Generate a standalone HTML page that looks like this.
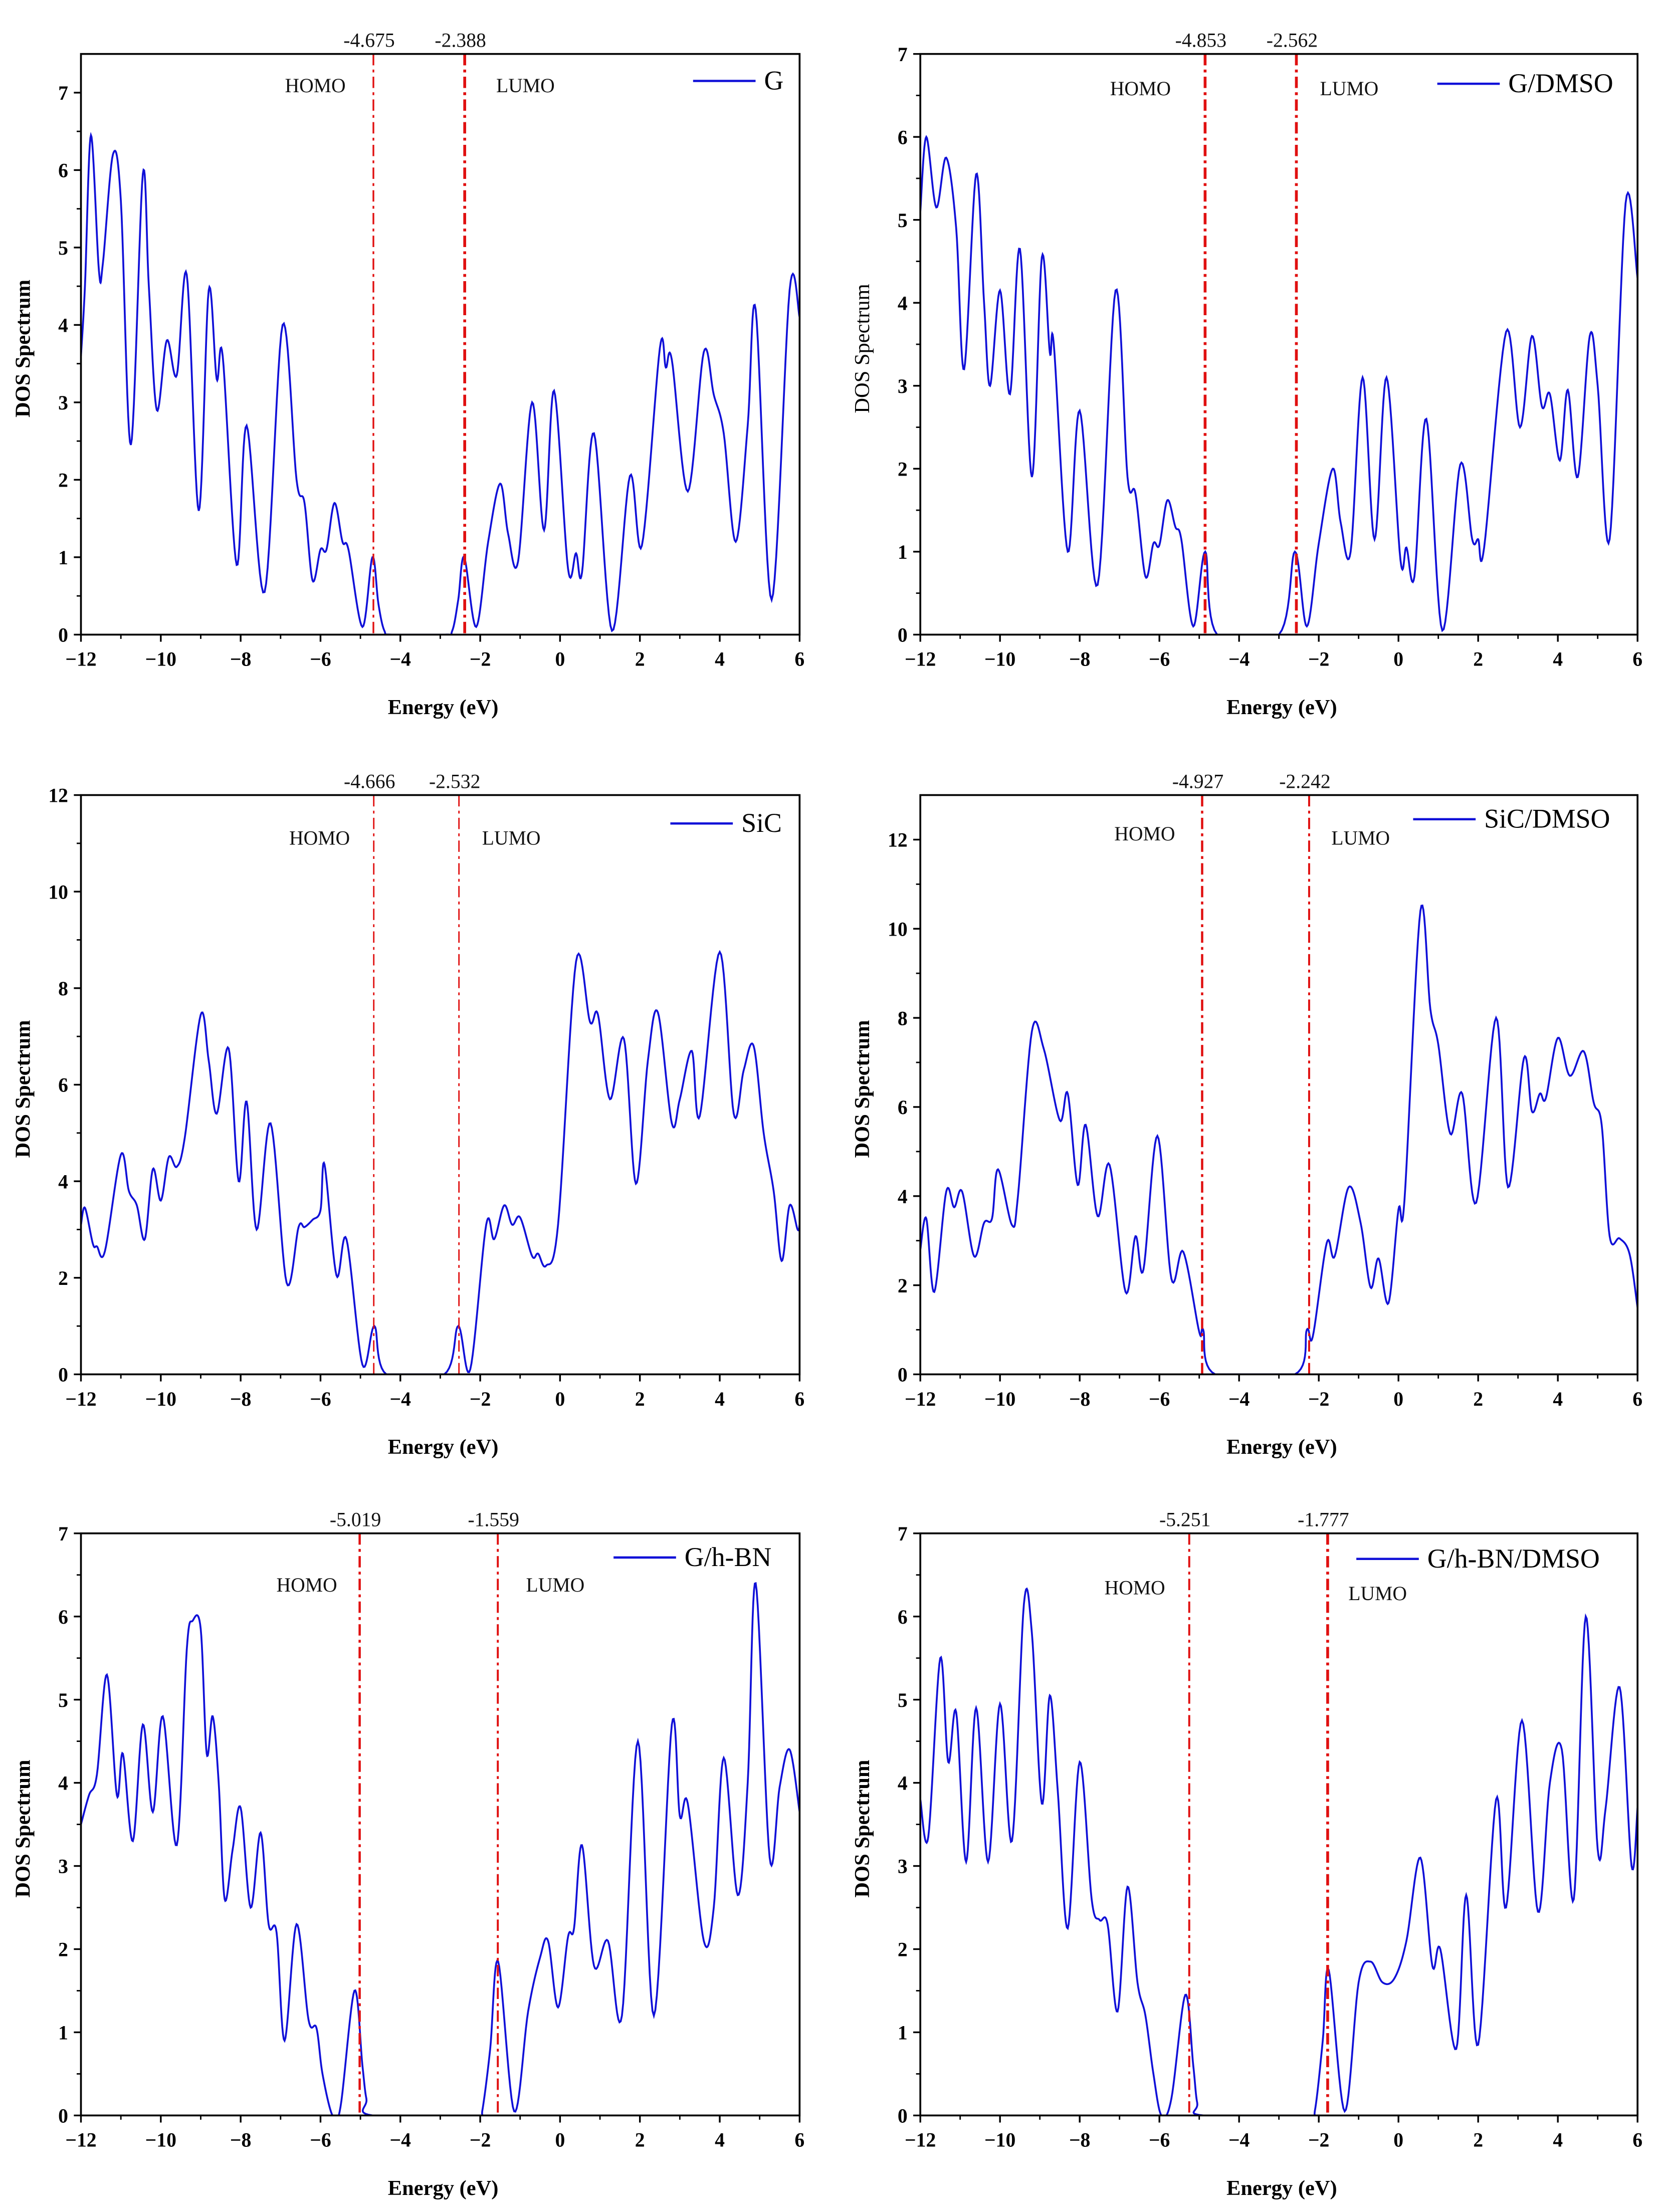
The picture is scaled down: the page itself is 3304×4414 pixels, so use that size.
<!DOCTYPE html>
<html><head><meta charset="utf-8"><style>
html,body{margin:0;padding:0;background:#fff}
svg{display:block}
text{font-family:"Liberation Serif",serif}
</style></head><body>
<svg id="fig" width="3304" height="4414" viewBox="0 0 1166 1558" preserveAspectRatio="none" xmlns="http://www.w3.org/2000/svg"></svg>
<script>
// ---- data (energy eV, DOS) ----
const gE=[-12,-11.9,-11.75,-11.55,-11.45,-11.2,-11.0,-10.75,-10.45,-10.3,-10.1,-9.85,-9.6,-9.35,-9.05,-8.8,-8.6,-8.45,-8.1,-7.85,-7.4,-6.95,-6.6,-6.4,-6.2,-6.0,-5.85,-5.65,-5.45,-5.3,-4.95,-4.7,-4.55,-4.4,-4.2,-2.9,-2.7,-2.55,-2.4,-2.1,-1.8,-1.5,-1.3,-1.05,-0.7,-0.4,-0.15,0.2,0.4,0.55,0.85,1.3,1.75,2.05,2.5,2.65,2.8,3.2,3.6,3.85,4.1,4.4,4.7,4.9,5.3,5.75,6];
const gD=[3.6,4.5,6.45,4.7,4.8,6.2,5.6,2.45,5.95,4.5,2.9,3.8,3.35,4.65,1.6,4.45,3.3,3.6,0.9,2.7,0.55,4.0,2.0,1.7,0.7,1.1,1.1,1.7,1.2,1.1,0.1,1.0,0.4,0.05,0,0,0.05,0.45,1.0,0.1,1.2,1.95,1.3,0.95,3.0,1.35,3.15,0.85,1.05,0.8,2.6,0.05,2.05,1.15,3.7,3.45,3.55,1.85,3.65,3.1,2.6,1.2,2.7,4.2,0.45,4.45,4.1];
const gdE=[-12,-11.85,-11.6,-11.35,-11.1,-10.9,-10.6,-10.4,-10.25,-10.0,-9.75,-9.5,-9.2,-8.95,-8.75,-8.65,-8.3,-8.0,-7.55,-7.1,-6.8,-6.6,-6.35,-6.15,-6.0,-5.8,-5.6,-5.45,-5.15,-4.85,-4.55,-3.0,-2.6,-2.3,-2.0,-1.65,-1.45,-1.2,-0.9,-0.6,-0.3,0.05,0.2,0.4,0.7,1.1,1.55,1.85,2.0,2.15,2.7,3.05,3.35,3.6,3.8,4.05,4.25,4.5,4.8,5.0,5.3,5.7,6.0];
const gdD=[5.1,6.0,5.15,5.75,4.9,3.2,5.55,4.0,3.0,4.15,2.9,4.65,1.9,4.55,3.4,3.5,1.0,2.7,0.6,4.15,1.9,1.7,0.7,1.1,1.08,1.62,1.3,1.15,0.1,1.0,0,0,1.0,0.1,1.1,2.0,1.35,1.0,3.1,1.15,3.1,0.9,1.05,0.7,2.6,0.05,2.05,1.15,1.15,1.05,3.65,2.5,3.6,2.75,2.9,2.1,2.95,1.9,3.6,3.0,1.15,5.2,4.3];
const sE=[-12,-11.9,-11.7,-11.6,-11.4,-11.0,-10.8,-10.6,-10.4,-10.2,-10.0,-9.8,-9.6,-9.4,-9.0,-8.8,-8.6,-8.3,-8.05,-7.85,-7.6,-7.25,-6.85,-6.55,-6.4,-6.2,-6.0,-5.9,-5.6,-5.35,-4.95,-4.65,-4.35,-2.9,-2.55,-2.25,-1.85,-1.65,-1.4,-1.2,-1.0,-0.7,-0.55,-0.35,-0.05,0.4,0.75,0.95,1.25,1.6,1.9,2.2,2.45,2.8,3.0,3.3,3.5,4.0,4.35,4.6,4.85,5.1,5.35,5.55,5.75,5.95,6];
const sD=[3.1,3.45,2.7,2.65,2.55,4.55,3.8,3.5,2.8,4.25,3.6,4.5,4.3,4.9,7.45,6.5,5.4,6.75,4.0,5.65,3.0,5.2,1.9,3.05,3.05,3.2,3.4,4.35,2.05,2.8,0.2,1.0,0,0,1.0,0.1,3.1,2.8,3.5,3.1,3.25,2.45,2.5,2.25,3.1,8.55,7.3,7.45,5.7,6.95,3.95,6.5,7.5,5.2,5.7,6.7,5.35,8.75,5.4,6.3,6.8,5.0,3.8,2.35,3.5,3.0,3.1];
const sdE=[-12,-11.85,-11.65,-11.35,-11.15,-10.95,-10.65,-10.4,-10.2,-10.05,-9.7,-9.55,-9.2,-8.9,-8.5,-8.3,-8.05,-7.85,-7.55,-7.25,-6.85,-6.6,-6.4,-6.05,-5.7,-5.4,-5.0,-4.9,-4.6,-2.6,-2.3,-2.15,-1.8,-1.6,-1.25,-0.95,-0.7,-0.5,-0.25,0.0,0.15,0.55,0.8,1.0,1.3,1.6,1.95,2.45,2.75,3.15,3.35,3.55,3.7,4.0,4.3,4.65,4.9,5.1,5.3,5.55,5.8,6.0];
const sdD=[2.8,3.5,1.85,4.1,3.75,4.1,2.65,3.4,3.5,4.6,3.35,4.0,7.7,7.3,5.7,6.3,4.25,5.6,3.55,4.7,1.85,3.1,2.35,5.35,2.15,2.75,0.95,1.0,0,0,1.0,0.85,2.95,2.65,4.2,3.4,1.95,2.6,1.6,3.7,3.9,10.4,8.2,7.4,5.4,6.3,3.85,8.0,4.2,7.1,5.9,6.3,6.2,7.55,6.7,7.25,6.1,5.6,3.1,3.05,2.7,1.5];
const bnE=[-12,-11.8,-11.6,-11.35,-11.1,-10.95,-10.7,-10.45,-10.2,-9.95,-9.6,-9.35,-9.2,-9.0,-8.85,-8.7,-8.55,-8.4,-8.2,-8.0,-7.75,-7.5,-7.3,-7.1,-6.9,-6.6,-6.3,-6.1,-5.95,-5.7,-5.5,-5.15,-4.95,-4.85,-4.7,-2.05,-1.95,-1.75,-1.55,-1.15,-0.8,-0.5,-0.3,-0.05,0.2,0.35,0.55,0.85,1.2,1.55,1.95,2.35,2.8,3.0,3.2,3.6,3.85,4.1,4.45,4.7,4.9,5.25,5.5,5.75,6];
const bnD=[3.5,3.85,4.1,5.3,3.85,4.35,3.3,4.7,3.65,4.8,3.25,5.6,5.95,5.85,4.35,4.8,4.0,2.6,3.2,3.7,2.5,3.4,2.3,2.2,0.9,2.3,1.15,1.05,0.5,0,0.1,1.5,0.6,0.2,0,0,0.05,0.8,1.85,0.05,1.25,1.9,2.1,1.3,2.15,2.25,3.25,1.8,2.1,1.2,4.5,1.2,4.7,3.6,3.75,2.1,2.5,4.3,2.65,4.0,6.4,3.1,3.95,4.4,3.65];
const bdE=[-12,-11.8,-11.5,-11.3,-11.1,-10.85,-10.6,-10.3,-10.0,-9.7,-9.4,-9.2,-8.95,-8.75,-8.55,-8.3,-8.0,-7.7,-7.5,-7.3,-7.05,-6.8,-6.55,-6.35,-6.15,-5.95,-5.7,-5.35,-5.15,-5.05,-4.9,-2.25,-2.1,-1.9,-1.75,-1.35,-1.0,-0.7,-0.4,-0.1,0.2,0.55,0.85,1.05,1.45,1.7,2.0,2.45,2.7,3.1,3.5,3.8,4.1,4.4,4.7,5.0,5.2,5.55,5.85,6];
const bdD=[3.8,3.35,5.5,4.25,4.85,3.05,4.9,3.05,4.95,3.3,6.15,5.8,3.75,5.05,3.9,2.25,4.25,2.6,2.35,2.3,1.25,2.75,1.6,1.2,0.5,0,0.2,1.45,0.6,0.15,0,0,0.05,0.9,1.75,0.05,1.6,1.85,1.6,1.65,2.1,3.1,1.8,2.0,0.8,2.65,0.85,3.8,2.5,4.75,2.45,4.0,4.4,2.6,6.0,3.2,3.7,5.15,3.0,3.7];
const xTicks=[-12,-10,-8,-6,-4,-2,0,2,4,6];

const NS="http://www.w3.org/2000/svg";
const svg=document.getElementById('fig');
function mk(tag,attrs,parent,txt){const e=document.createElementNS(NS,tag);for(const k in attrs)e.setAttribute(k,attrs[k]);if(txt!==undefined)e.textContent=txt;(parent||svg).appendChild(e);return e;}

const panels=[
 {id:'g',name:'G',E:gE,D:gD,x0:57,x1:563,yT:38,yB:447,ymax:7.5,step:1,homo:-4.675,lumo:-2.388,hl:'-4.675',ll:'-2.388',legX:488,legY:57,hx:222,hy:60,lx:370,ly:60,titleBold:true,lw:[1.2,2]},
 {id:'gdmso',name:'G/DMSO',E:gdE,D:gdD,x0:648,x1:1153,yT:38,yB:447,ymax:7,step:1,homo:-4.853,lumo:-2.562,hl:'-4.853',ll:'-2.562',legX:1012,legY:59,hx:803,hy:62,lx:950,ly:62,titleBold:false,lw:[2,2]},
 {id:'sic',name:'SiC',E:sE,D:sD,x0:57,x1:563,yT:560,yB:968,ymax:12,step:2,homo:-4.666,lumo:-2.532,hl:'-4.666',ll:'-2.532',legX:472,legY:580,hx:225,hy:590,lx:360,ly:590,titleBold:true,lw:[1,1]},
 {id:'sicdmso',name:'SiC/DMSO',E:sdE,D:sdD,x0:648,x1:1153,yT:560,yB:968,ymax:13,step:2,homo:-4.927,lumo:-2.242,hl:'-4.927',ll:'-2.242',legX:995,legY:577,hx:806,hy:587,lx:958,ly:590,titleBold:true,lw:[1.6,1.4]},
 {id:'ghbn',name:'G/h-BN',E:bnE,D:bnD,x0:57,x1:563,yT:1080,yB:1490,ymax:7,step:1,homo:-5.019,lumo:-1.559,hl:'-5.019',ll:'-1.559',legX:432,legY:1097,hx:216,hy:1116,lx:391,ly:1116,titleBold:true,lw:[1.6,1.4]},
 {id:'ghbndmso',name:'G/h-BN/DMSO',E:bdE,D:bdD,x0:648,x1:1153,yT:1080,yB:1490,ymax:7,step:1,homo:-5.251,lumo:-1.777,hl:'-5.251',ll:'-1.777',legX:955,legY:1098,hx:799,hy:1118,lx:970,ly:1122,titleBold:true,lw:[1.4,2]}
];

function crSample(E,D){
  const out=[];
  for(let i=0;i<E.length-1;i++){
    const p0=i>0?i-1:i,p3=i+2<E.length?i+2:i+1;
    for(let s=0;s<12;s++){
      const t=s/12,t2=t*t,t3=t2*t;
      const f=(a,b,c,d)=>0.5*((2*b)+(-a+c)*t+(2*a-5*b+4*c-d)*t2+(-a+3*b-3*c+d)*t3);
      out.push([f(E[p0],E[i],E[i+1],E[p3]),Math.max(0,f(D[p0],D[i],D[i+1],D[p3]))]);
    }
  }
  out.push([E[E.length-1],D[D.length-1]]);
  return out;
}

panels.forEach(p=>{
  const sx=v=>p.x0+(v+12)/18*(p.x1-p.x0);
  const sy=v=>p.yB-v/p.ymax*(p.yB-p.yT);
  const g=mk('g',{});
  
  
  const cid='clip-'+p.id;
  const cp=mk('clipPath',{id:cid},g);mk('rect',{x:p.x0,y:p.yT,width:p.x1-p.x0,height:p.yB-p.yT},cp);
  const pts=crSample(p.E,p.D).map(q=>sx(q[0]).toFixed(2)+','+sy(q[1]).toFixed(2)).join(' ');
  const line=mk('polyline',{points:pts,fill:'none',stroke:'#1010d8','stroke-width':1.3,'clip-path':'url(#'+cid+')'},g);
  
  
  [[p.homo,p.hl,p.lw[0],'homo'],[p.lumo,p.ll,p.lw[1],'lumo']].forEach(h=>{
    const l=mk('line',{x1:sx(h[0]),x2:sx(h[0]),y1:p.yT,y2:p.yB,stroke:'#e01010','stroke-width':h[2],'stroke-dasharray':'8,3,2,3'},g);
    
    
    const t=mk('text',{x:sx(h[0])-3,y:p.yT-5,'text-anchor':'middle','font-size':14,fill:'#111'},g,h[1]);
    
    
  });
  const th=mk('text',{x:p.hx,y:p.hy+5,'text-anchor':'middle','font-size':14,fill:'#111'},g,'HOMO');
  
  
  const tl=mk('text',{x:p.lx,y:p.ly+5,'text-anchor':'middle','font-size':14,fill:'#111'},g,'LUMO');
  
  
  const fr=mk('rect',{x:p.x0,y:p.yT,width:p.x1-p.x0,height:p.yB-p.yT,fill:'none',stroke:'#000','stroke-width':1.3},g);
  
  
  xTicks.forEach((v,i)=>{
    mk('line',{x1:sx(v),x2:sx(v),y1:p.yB,y2:p.yB+5,stroke:'#000','stroke-width':1.2},g);
    if(i<xTicks.length-1)mk('line',{x1:sx(v+1),x2:sx(v+1),y1:p.yB,y2:p.yB+3,stroke:'#000','stroke-width':1},g);
    const t=mk('text',{x:sx(v),y:p.yB+22,'text-anchor':'middle','font-size':14,'font-weight':'bold',fill:'#000'},g,(v<0?'\u2212'+(-v):''+v));
    
    
  });
  for(let v=0;v<=p.ymax+1e-6;v+=p.step){
    mk('line',{x1:p.x0-5,x2:p.x0,y1:sy(v),y2:sy(v),stroke:'#000','stroke-width':1.2},g);
    const t=mk('text',{x:p.x0-9,y:sy(v)+5,'text-anchor':'end','font-size':14,'font-weight':'bold',fill:'#000'},g,''+v);
    
    
    const m=v+p.step/2;
    if(m<p.ymax)mk('line',{x1:p.x0-3,x2:p.x0,y1:sy(m),y2:sy(m),stroke:'#000','stroke-width':1},g);
  }
  const xt=mk('text',{x:(p.x0+p.x1)/2+2,y:p.yB+56,'text-anchor':'middle','font-size':15,'font-weight':'bold',fill:'#000'},g,'Energy (eV)');
  
  
  const cy=(p.yT+p.yB)/2+3, cx=p.x0-36;
  const yt=mk('text',{x:cx,y:cy,transform:'rotate(-90 '+cx+' '+cy+')','text-anchor':'middle','font-size':15,'font-weight':p.titleBold?'bold':'normal',fill:'#000'},g,'DOS Spectrum');
  
  
  const lg=mk('g',{},g);
  
  
  mk('line',{x1:p.legX,x2:p.legX+44,y1:p.legY,y2:p.legY,stroke:'#1010d8','stroke-width':1.6},lg);
  mk('text',{x:p.legX+50,y:p.legY+6,'font-size':19,fill:'#000'},lg,p.name);
});
</script>
</body></html>
